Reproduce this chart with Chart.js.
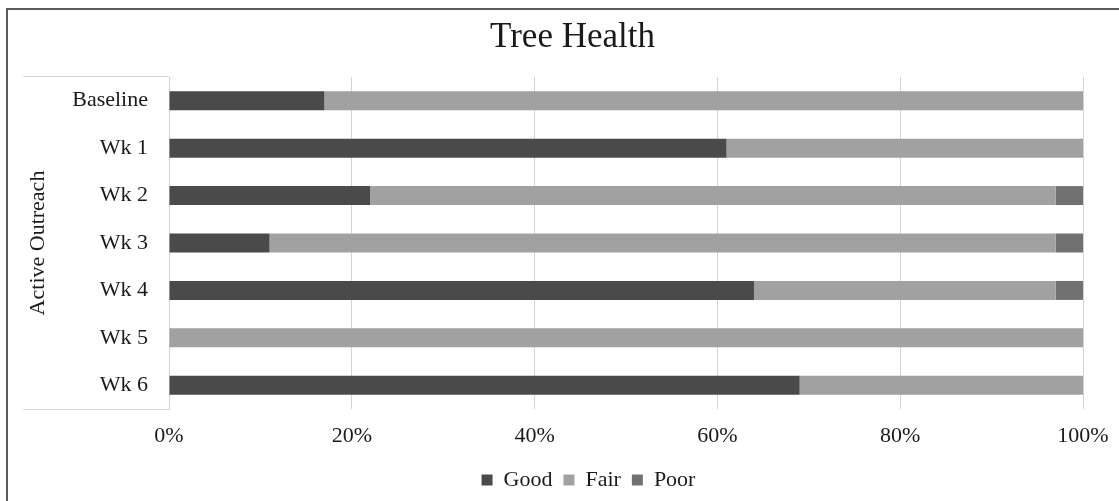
<!DOCTYPE html>
<html>
<head>
<meta charset="utf-8">
<title>Tree Health</title>
<script src="https://cdn.jsdelivr.net/npm/chart.js@4"></script>
<style>
  body { margin: 0; background: #ffffff; }
  #chart-box { position: relative; width: 1119px; height: 501px; }
</style>
</head>
<body>
<div id="chart-box"><canvas id="health-chart"></canvas></div>
<script>
// Chart data
const categories = ["Baseline", "Wk 1", "Wk 2", "Wk 3", "Wk 4", "Wk 5", "Wk 6"];
const good = [17, 61, 22, 11, 64, 0, 69];
const fair = [83, 39, 75, 86, 33, 100, 31];
const poor = [0, 0, 3, 3, 3, 0, 0];
const xTicks = [0, 20, 40, 60, 80, 100];

document.addEventListener("DOMContentLoaded", function () {
  const serif = "'Liberation Serif', 'DejaVu Serif', serif";
  const textColor = "#1a1a1a";
  const lineGray = "#d4d4d4";

  // Outer frame + the little bracket lines around the category labels
  const framePlugin = {
    id: "frame",
    afterLayout: function (chart) {
      // nudge title and legend to sit where they do in the original
      chart.titleBlock.left += 31;
      chart.titleBlock.right += 31;
      chart.legend.left += 47;
      chart.legend.right += 47;
    },
    beforeDraw: function (chart) {
      const ctx = chart.ctx;
      const area = chart.chartArea;
      ctx.save();
      ctx.fillStyle = "#ffffff";
      ctx.fillRect(0, 0, chart.width, chart.height);
      ctx.strokeStyle = "#5a5a5a";
      ctx.lineWidth = 2;
      ctx.beginPath();
      ctx.moveTo(7, chart.height);
      ctx.lineTo(7, 9);
      ctx.lineTo(chart.width, 9);
      ctx.stroke();
      ctx.strokeStyle = lineGray;
      ctx.lineWidth = 1;
      ctx.beginPath();
      ctx.moveTo(23, area.top - 0.5);
      ctx.lineTo(area.left, area.top - 0.5);
      ctx.moveTo(23, area.bottom + 0.5);
      ctx.lineTo(area.left, area.bottom + 0.5);
      ctx.stroke();
      ctx.restore();
    },
  };

  new Chart(document.getElementById("health-chart").getContext("2d"), {
    type: "bar",
    data: {
      labels: categories,
      datasets: [
        { label: "Good", data: good, backgroundColor: "#4a4a4a" },
        { label: "Fair", data: fair, backgroundColor: "#a1a1a1" },
        { label: "Poor", data: poor, backgroundColor: "#717171" },
      ],
    },
    options: {
      indexAxis: "y",
      responsive: true,
      maintainAspectRatio: false,
      animation: false,
      devicePixelRatio: 1,
      categoryPercentage: 0.5,
      barPercentage: 0.8,
      layout: { padding: { left: 0, right: 36, top: 0, bottom: 0 } },
      scales: {
        x: {
          stacked: true,
          min: 0,
          max: 100,
          afterBuildTicks: function (scale) {
            scale.ticks = xTicks.map((v) => ({ value: v }));
          },
          afterFit: function (scale) {
            scale.height = 49;
            scale.paddingLeft = 0;
            scale.paddingRight = 36;
          },
          grid: { color: lineGray, drawTicks: false },
          border: { display: false },
          ticks: {
            padding: 14,
            color: textColor,
            font: { family: serif, size: 22 },
            callback: function (value) {
              return value + "%";
            },
          },
        },
        y: {
          stacked: true,
          afterFit: function (scale) {
            scale.width = 169;
          },
          grid: { display: false, drawTicks: false },
          border: { display: true, color: lineGray },
          ticks: {
            padding: 21,
            color: textColor,
            font: { family: serif, size: 22 },
          },
          title: {
            display: true,
            text: "Active Outreach",
            color: textColor,
            font: { family: serif, size: 22 },
            padding: { top: 25, bottom: 0 },
          },
        },
      },
      plugins: {
        title: {
          display: true,
          text: "Tree Health",
          color: textColor,
          font: { family: serif, size: 35, weight: "normal" },
          padding: { top: 17, bottom: 18 },
        },
        legend: {
          position: "bottom",
          labels: {
            boxWidth: 11,
            boxHeight: 11,
            padding: 11,
            color: textColor,
            font: { family: serif, size: 22 },
          },
        },
        tooltip: { enabled: false },
      },
    },
    plugins: [framePlugin],
  });
});
</script>
</body>
</html>
